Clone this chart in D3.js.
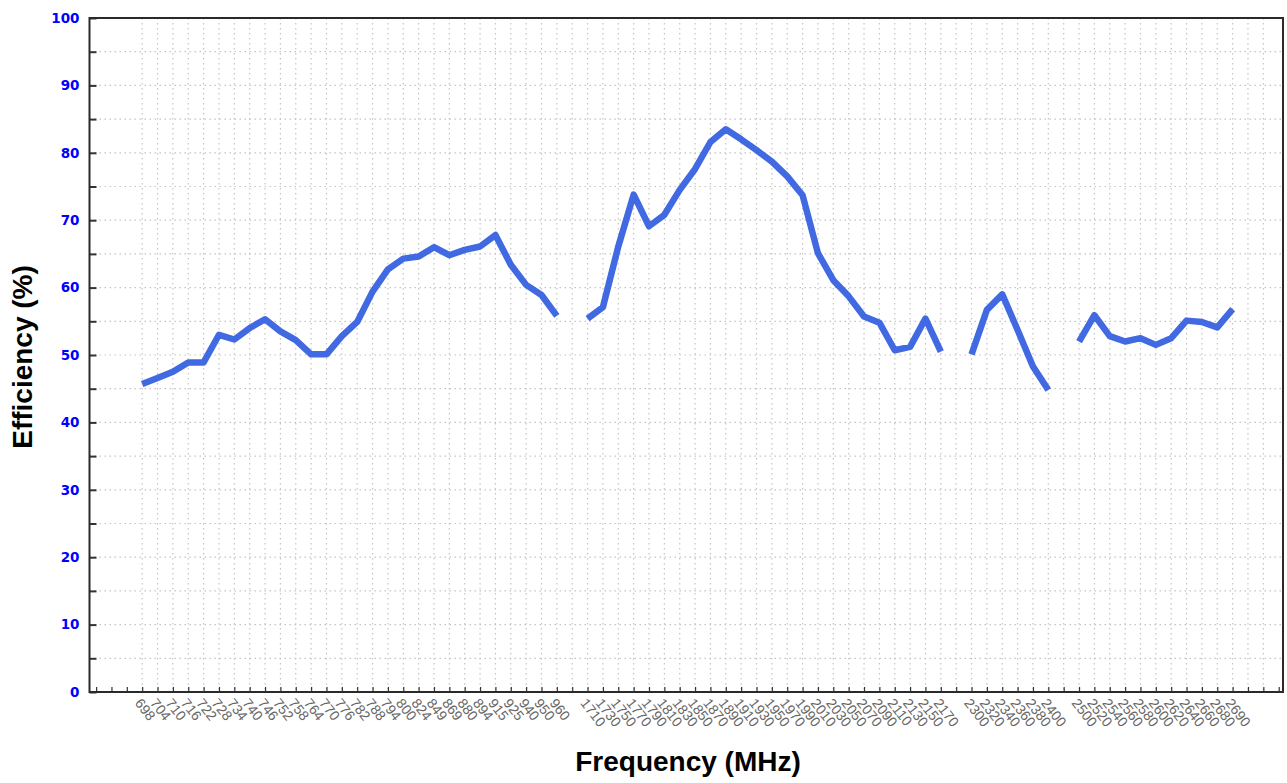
<!DOCTYPE html>
<html>
<head>
<meta charset="utf-8">
<script src="https://cdn.jsdelivr.net/npm/d3@7/dist/d3.min.js"></script>
<style>
  html, body { margin: 0; padding: 0; background: #fff; }
  svg { display: block; }
</style>
</head>
<body>
<svg id="chart" width="1287" height="783"></svg>
<script>
// ---- data ----
const categories = [
  "698","704","710","716","722","728","734","740","746","752","758","764","770","776",
  "782","788","794","800","824","849","869","880","894","915","925","940","950","960",
  "",
  "1710","1730","1750","1770","1790","1810","1830","1850","1870","1890","1910","1930",
  "1950","1970","1990","2010","2030","2050","2070","2090","2110","2130","2150","2170",
  "",
  "2300","2320","2340","2360","2380","2400",
  "",
  "2500","2520","2540","2560","2580","2600","2620","2640","2660","2680","2690"
];
const efficiency = [
  45.7, 46.6, 47.5, 48.9, 48.9, 53.0, 52.3, 54.0, 55.3, 53.5, 52.2, 50.1, 50.1, 52.8,
  54.9, 59.4, 62.7, 64.3, 64.6, 66.0, 64.8, 65.6, 66.1, 67.8, 63.4, 60.4, 58.9, 55.8,
  null,
  55.4, 57.1, 66.1, 73.8, 69.1, 70.8, 74.5, 77.6, 81.6, 83.5, 82.0, 80.4,
  78.7, 76.5, 73.7, 65.1, 61.1, 58.7, 55.7, 54.8, 50.7, 51.2, 55.4, 50.5,
  null,
  50.1, 56.7, 59.0, 53.7, 48.3, 44.8,
  null,
  52.0, 55.9, 52.8, 52.0, 52.5, 51.5, 52.5, 55.1, 54.9, 54.1, 56.8
];
const yTicks = [0, 10, 20, 30, 40, 50, 60, 70, 80, 90, 100];
const xTitle = "Frequency (MHz)";
const yTitle = "Efficiency (%)";

// ---- layout ----
const L = 89.5, R = 1283, T = 18, B = 692;
const svg = d3.select("#chart");

const x = d3.scaleLinear().domain([-3.43, 74.28]).range([L, R]);
const y = d3.scaleLinear().domain([0, 100]).range([B, T]);

const gridCol = "#c4c4c4";

// vertical grid (one per category slot)
const gridIdx = d3.range(0, 74);
svg.append("g").selectAll("line").data(gridIdx).join("line")
  .attr("x1", d => x(d)).attr("x2", d => x(d))
  .attr("y1", T).attr("y2", B)
  .attr("stroke", gridCol).attr("stroke-width", 1.2)
  .attr("stroke-dasharray", "1.5,3.5");

// horizontal grid every 5
const hGrid = d3.range(5, 100, 5);
svg.append("g").selectAll("line").data(hGrid).join("line")
  .attr("x1", L).attr("x2", R)
  .attr("y1", d => y(d)).attr("y2", d => y(d))
  .attr("stroke", gridCol).attr("stroke-width", 1.2)
  .attr("stroke-dasharray", "1.5,3.5");

// y axis ticks (inward) and labels
const yAxis = d3.axisLeft(y).tickValues(d3.range(0, 101, 5)).tickSizeInner(-7).tickSizeOuter(0)
  .tickFormat(d => yTicks.includes(d) ? d : "");
const gy = svg.append("g").attr("transform", `translate(${L},0)`).call(yAxis);
gy.select(".domain").remove();
gy.selectAll(".tick line").attr("stroke", "#333").attr("stroke-width", 2);
gy.selectAll(".tick text")
  .attr("x", -10)
  .attr("fill", "#0000ff")
  .attr("font-family", "'DejaVu Sans', sans-serif")
  .attr("font-weight", "bold")
  .attr("font-size", 13.5);

// x axis ticks (inward) and labels
const xTickIdx = d3.range(-3, 75);
const xAxis = d3.axisBottom(x).tickValues(xTickIdx).tickSizeInner(-5).tickSizeOuter(0).tickFormat("");
const gx = svg.append("g").attr("transform", `translate(0,${B})`).call(xAxis);
gx.select(".domain").remove();
gx.selectAll(".tick line").attr("stroke", "#333").attr("stroke-width", 1.2);

svg.append("g").selectAll("text").data(categories.map((c, i) => ({c, i})).filter(d => d.c !== ""))
  .join("text")
  .attr("transform", d => `translate(${x(d.i) - 5},${B + 9}) rotate(52)`)
  .attr("font-family", "'Liberation Sans', Arial, sans-serif")
  .attr("font-size", 14)
  .attr("fill", "#666")
  .attr("dominant-baseline", "middle")
  .text(d => d.c);

// frame
svg.append("rect")
  .attr("x", L).attr("y", T).attr("width", R - L).attr("height", B - T)
  .attr("fill", "none").attr("stroke", "#2a2a2a").attr("stroke-width", 2);

// line
const pts = efficiency.map((v, i) => ({i, v}));
const line = d3.line()
  .defined(d => d.v !== null)
  .x(d => x(d.i))
  .y(d => y(d.v));
svg.append("path")
  .datum(pts)
  .attr("d", line)
  .attr("fill", "none")
  .attr("stroke", "#4169e1")
  .attr("stroke-width", 6.5)
  .attr("stroke-linejoin", "round");

// titles
svg.append("text")
  .attr("x", 688).attr("y", 771)
  .attr("text-anchor", "middle")
  .attr("font-family", "'Liberation Sans', Arial, sans-serif")
  .attr("font-weight", "bold").attr("font-size", 28)
  .attr("fill", "#000")
  .text(xTitle);

svg.append("text")
  .attr("transform", "translate(32,357) rotate(-90)")
  .attr("text-anchor", "middle")
  .attr("font-family", "'Liberation Sans', Arial, sans-serif")
  .attr("font-weight", "bold").attr("font-size", 28)
  .attr("fill", "#000")
  .text(yTitle);
</script>
</body>
</html>
